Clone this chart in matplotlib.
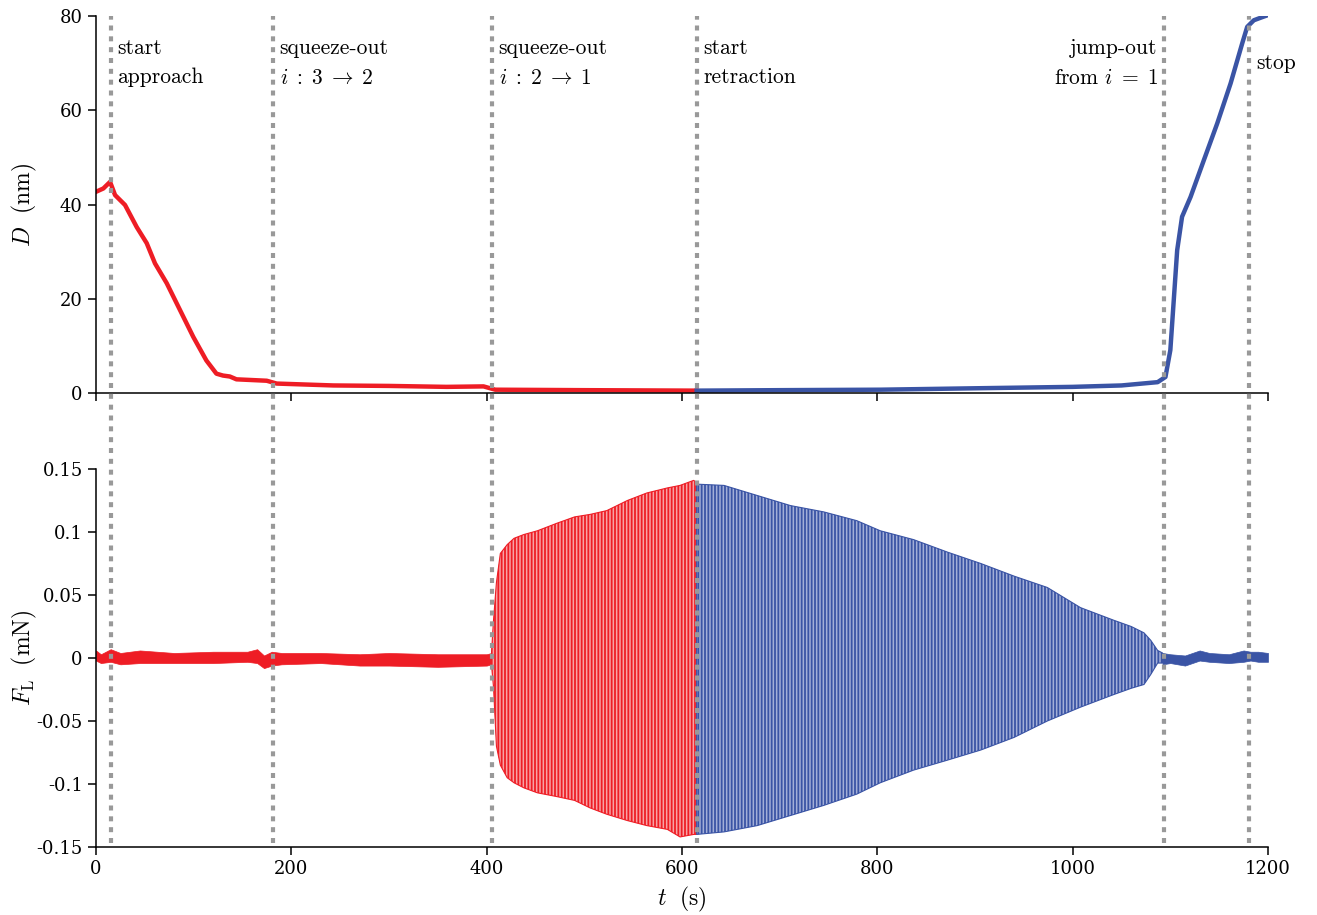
import numpy as np
import matplotlib
matplotlib.use('Agg')
import matplotlib.pyplot as plt

# Separation distance D (nm): approach (red) and retraction (blue)
d_red_t = [0, 7.5, 14.4, 19.5, 29.7, 41.7, 51.9, 60.4, 72.4, 86, 99.6, 113, 123.3, 130,
           137, 143.8, 174.8, 185, 243, 300, 359, 396.8, 408.8, 500, 615]
d_red = [42.7, 43.4, 44.8, 42.0, 39.9, 35.2, 31.8, 27.5, 23.3, 17.6, 11.9, 6.9, 4.1, 3.7,
         3.5, 2.9, 2.6, 2.0, 1.6, 1.5, 1.3, 1.4, 0.7, 0.6, 0.5]
d_blue_t = [615, 700, 803, 900, 1000, 1050, 1087, 1095, 1100, 1103.5, 1107, 1112, 1120.7,
            1134.3, 1148, 1161.7, 1173.6, 1178.7, 1185.5, 1192, 1200]
d_blue = [0.5, 0.6, 0.7, 1.0, 1.3, 1.6, 2.3, 3.4, 9.1, 19.7, 30.3, 37.4, 41.6,
          49.4, 57.2, 65.7, 74.2, 77.7, 79.1, 79.6, 80.2]

# Lateral force F_L (mN): envelopes of the trace
f_red_noise_t = [0, 5, 15, 25, 45, 80, 120, 155, 165, 172, 180, 190, 230, 270, 300, 350, 400, 405]
f_red_noise_hi = [0.006, 0.003, 0.007, 0.004, 0.006, 0.004, 0.005, 0.005, 0.007, 0.002, 0.005,
                  0.004, 0.004, 0.003, 0.004, 0.003, 0.003, 0.004]
f_red_noise_lo = [-0.002, -0.004, -0.003, -0.005, -0.004, -0.004, -0.004, -0.003, -0.004, -0.008,
                  -0.006, -0.005, -0.004, -0.006, -0.006, -0.007, -0.006, -0.005]

f_red_osc_t = [405, 407, 410, 414, 421, 428, 438, 452, 472, 490, 506, 523, 544, 564, 585, 598, 612, 615]
f_red_osc_hi = [0.005, 0.030, 0.060, 0.083, 0.090, 0.095, 0.098, 0.101, 0.107, 0.112, 0.114, 0.117,
                0.125, 0.131, 0.135, 0.137, 0.141, 0.139]
f_red_osc_lo = [-0.006, -0.023, -0.070, -0.085, -0.095, -0.099, -0.103, -0.107, -0.110, -0.113,
                -0.119, -0.124, -0.129, -0.133, -0.136, -0.142, -0.140, -0.140]

f_blue_osc_t = [615, 643, 677, 711, 745, 779, 803, 837, 872, 906, 940, 974, 1008, 1042, 1060,
                1073, 1080, 1087, 1092]
f_blue_osc_hi = [0.138, 0.137, 0.129, 0.121, 0.116, 0.109, 0.101, 0.094, 0.084, 0.075, 0.065,
                 0.056, 0.040, 0.030, 0.025, 0.020, 0.014, 0.006, 0.004]
f_blue_osc_lo = [-0.140, -0.138, -0.133, -0.125, -0.117, -0.108, -0.099, -0.089, -0.081, -0.073,
                 -0.063, -0.050, -0.039, -0.029, -0.024, -0.021, -0.013, -0.004, -0.004]

f_blue_noise_t = [1092, 1100, 1115, 1130, 1140, 1160, 1175, 1182, 1190, 1200]
f_blue_noise_hi = [0.004, 0.003, 0.002, 0.006, 0.004, 0.003, 0.006, 0.005, 0.005, 0.004]
f_blue_noise_lo = [-0.005, -0.004, -0.006, -0.002, -0.003, -0.004, -0.003, -0.002, -0.003, -0.003]

# Events (s) and their labels
event_t = [15, 181, 405, 615, 1094, 1181]
event_text = ['start\napproach',
              'squeeze-out\n$i\\;:\\;3\\;\\rightarrow\\;2$',
              'squeeze-out\n$i\\;:\\;2\\;\\rightarrow\\;1$',
              'start\nretraction',
              'jump-out\nfrom $i\\;=\\;1$',
              'stop']

x_ticks = [0, 200, 400, 600, 800, 1000, 1200]
d_ticks = [0, 20, 40, 60, 80]
f_ticks = [-0.15, -0.1, -0.05, 0, 0.05, 0.1, 0.15]
f_tick_labels = ['-0.15', '-0.1', '-0.05', '0', '0.05', '0.1', '0.15']

red = '#EE1D25'
blue = '#3A54A5'
red_light = '#F8A3A6'
blue_light = '#A3AFD8'
gray = '#999999'

plt.rcParams['mathtext.fontset'] = 'cm'
plt.rcParams['font.family'] = 'cmr10'
plt.rcParams['axes.unicode_minus'] = False
plt.rcParams['hatch.linewidth'] = 1.3

fig = plt.figure(figsize=(13.17, 9.15), dpi=100)
ax1 = fig.add_axes([0.0729, 0.5705, 0.8899, 0.412])
ax2 = fig.add_axes([0.0729, 0.0743, 0.8899, 0.4131])

# Top panel: distance
ax1.plot(d_red_t, d_red, color=red, lw=3.2, solid_joinstyle='round')
ax1.plot(d_blue_t, d_blue, color=blue, lw=3.2, solid_joinstyle='round')

# Bottom panel: lateral force
ax2.fill_between(f_red_noise_t, f_red_noise_lo, f_red_noise_hi, color=red, lw=0.5)
ax2.fill_between(f_blue_noise_t, f_blue_noise_lo, f_blue_noise_hi, color=blue, lw=0.5)
with plt.rc_context({'hatch.color': red}):
    ax2.fill_between(f_red_osc_t, f_red_osc_lo, f_red_osc_hi, facecolor=red_light,
                     edgecolor=red, hatch='|||||', lw=0.8)
with plt.rc_context({'hatch.color': blue}):
    ax2.fill_between(f_blue_osc_t, f_blue_osc_lo, f_blue_osc_hi, facecolor=blue_light,
                     edgecolor=blue, hatch='|||||', lw=0.8)

# Dotted event lines spanning both panels
for t in event_t:
    ax2.axvline(t, ymin=0.01, ymax=2.198, color=gray, lw=3, linestyle=(0, (1.2, 1.4)),
                clip_on=False, zorder=3)

# Event labels
for t, txt in zip(event_t, event_text):
    if txt.startswith('jump'):
        ax1.annotate(txt, xy=(t, 70), xytext=(-5, 0), textcoords='offset points',
                     ha='right', va='center', fontsize=15.5, linespacing=1.6)
    elif txt == 'stop':
        ax1.annotate(txt, xy=(t, 70), xytext=(5, 0), textcoords='offset points',
                     ha='left', va='center', fontsize=15.5)
    else:
        ax1.annotate(txt, xy=(t, 70), xytext=(5, 0), textcoords='offset points',
                     ha='left', va='center', fontsize=15.5, linespacing=1.6)

for ax in (ax1, ax2):
    ax.set_xlim(0, 1200)
    ax.set_xticks(x_ticks)
    ax.spines['top'].set_visible(False)
    ax.spines['right'].set_visible(False)
    ax.spines['left'].set_linewidth(1.1)
    ax.spines['bottom'].set_linewidth(1.1)
    ax.tick_params(direction='out', length=6, width=1.1, labelsize=13)

ax1.set_ylim(0, 80)
ax1.set_yticks(d_ticks)
ax1.set_yticklabels([str(v) for v in d_ticks], family='DejaVu Serif')
ax1.tick_params(axis='x', labelbottom=False)

ax2.set_ylim(-0.15, 0.15)
ax2.set_yticks(f_ticks)
ax2.set_yticklabels(f_tick_labels, family='DejaVu Serif')
ax2.set_xticklabels([str(v) for v in x_ticks], family='DejaVu Serif')

ax1.set_ylabel(r'$D\ \ (\mathrm{nm})$', fontsize=17)
ax2.set_ylabel(r'$F_\mathrm{L}\ \ (\mathrm{mN})$', fontsize=17)
ax2.set_xlabel(r'$t\ \ (\mathrm{s})$', fontsize=17)
ax1.yaxis.set_label_coords(-0.049, 0.5)
ax2.yaxis.set_label_coords(-0.049, 0.5)
ax2.xaxis.set_label_coords(0.5, -0.1)

fig.savefig('out.png', dpi=100)
